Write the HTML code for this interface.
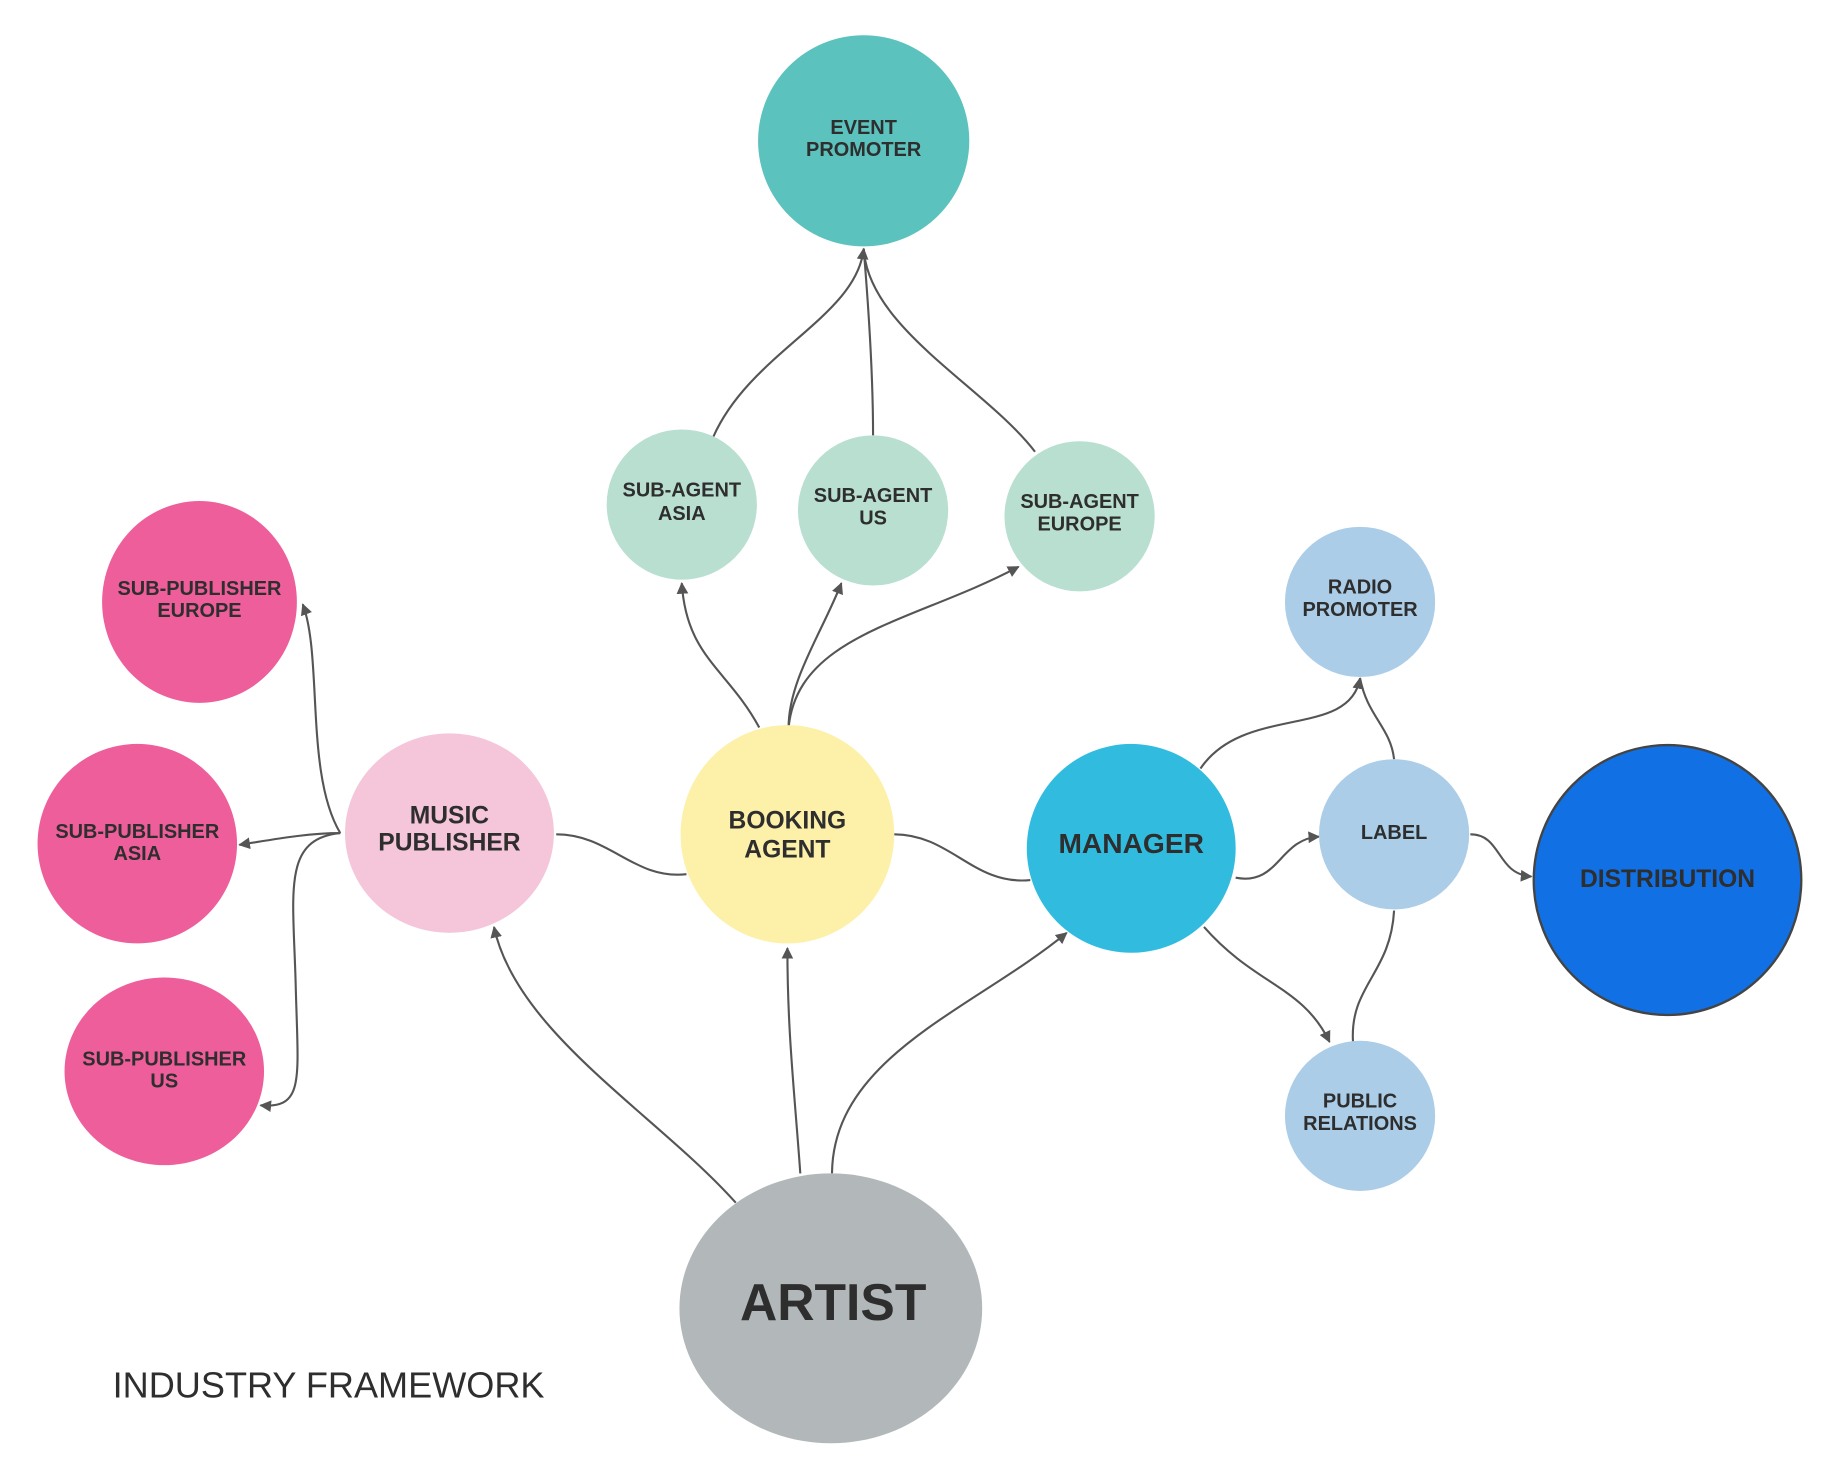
<!DOCTYPE html>
<html><head><meta charset="utf-8"><style>
html,body{margin:0;padding:0;background:#fff;}
svg{display:block;}
text{font-family:"Liberation Sans",sans-serif;font-weight:bold;fill:#2e2e2e;text-anchor:middle;}
.e{fill:none;stroke:#555;stroke-width:1.8;}
</style></head><body>
<svg width="1840" height="1482" viewBox="0 0 1568 1263" preserveAspectRatio="none">
<defs><marker id="a" markerWidth="10" markerHeight="10" refX="9" refY="5" orient="auto" markerUnits="userSpaceOnUse"><path d="M0,0 L10,5 L0,10 z" fill="#555"/></marker></defs>
<!-- edges -->
<path class="e" d="M608,372 C640,300 730,270 736,212" marker-end="url(#a)"/>
<path class="e" d="M744,371 C744,320 740,260 736,212"/>
<path class="e" d="M882,385 C840,330 740,280 736,212"/>
<path class="e" d="M647,620 C620,570 585,560 581,497" marker-end="url(#a)"/>
<path class="e" d="M672,620 C672,580 700,540 717,497" marker-end="url(#a)"/>
<path class="e" d="M672,620 C680,540 780,530 868,483" marker-end="url(#a)"/>
<path class="e" d="M474,711 C520,711 540,750 585,745"/>
<path class="e" d="M762,711 C810,711 830,755 878,750"/>
<path class="e" d="M627,1025 C560,950 440,880 421,790" marker-end="url(#a)"/>
<path class="e" d="M682,1000 C677,930 671,880 671,808" marker-end="url(#a)"/>
<path class="e" d="M709,1000 C710,900 830,860 909,795" marker-end="url(#a)"/>
<path class="e" d="M290,710 C260,660 275,560 258,515" marker-end="url(#a)"/>
<path class="e" d="M290,710 C260,710 230,716 204,720" marker-end="url(#a)"/>
<path class="e" d="M290,710 C240,715 250,760 252,840 C254,920 260,945 222,942" marker-end="url(#a)"/>
<path class="e" d="M1023,655 C1060,600 1150,630 1159,578" marker-end="url(#a)"/>
<path class="e" d="M1188,647 C1185,620 1165,610 1159,578"/>
<path class="e" d="M1053,748 C1090,755 1090,715 1124,713" marker-end="url(#a)"/>
<path class="e" d="M1253,711 C1280,711 1275,745 1305,747" marker-end="url(#a)"/>
<path class="e" d="M1026,790 C1070,840 1110,840 1133,888" marker-end="url(#a)"/>
<path class="e" d="M1188,776 C1185,830 1150,840 1153,888"/>
<!-- nodes -->
<ellipse cx="736" cy="120" rx="90" ry="90" fill="#5bc2bd"/>
<ellipse cx="581" cy="430" rx="64" ry="64" fill="#b8dfd0"/>
<ellipse cx="744" cy="435" rx="64" ry="64" fill="#b8dfd0"/>
<ellipse cx="920" cy="440" rx="64" ry="64" fill="#b8dfd0"/>
<ellipse cx="170" cy="513" rx="83" ry="86" fill="#ee5e9b"/>
<ellipse cx="117" cy="719" rx="85" ry="85" fill="#ee5e9b"/>
<ellipse cx="140" cy="913" rx="85" ry="80" fill="#ee5e9b"/>
<ellipse cx="383" cy="710" rx="89" ry="85" fill="#f5c6da"/>
<ellipse cx="671" cy="711" rx="91" ry="93" fill="#fdf0a8"/>
<ellipse cx="964" cy="723" rx="89" ry="89" fill="#31bcdf"/>
<ellipse cx="1159" cy="513" rx="64" ry="64" fill="#abcde8"/>
<ellipse cx="1188" cy="711" rx="64" ry="64" fill="#abcde8"/>
<ellipse cx="1159" cy="951" rx="64" ry="64" fill="#abcde8"/>
<ellipse cx="1421" cy="750" rx="114" ry="115" fill="#1170e3" stroke="#444" stroke-width="2"/>
<ellipse cx="708" cy="1115" rx="129" ry="115" fill="#b2b8b9"/>
<!-- labels -->
<g font-size="17" style="font-weight:normal">
<text x="736" y="114">EVENT</text><text x="736" y="133">PROMOTER</text>
<text x="581" y="423">SUB-AGENT</text><text x="581" y="443">ASIA</text>
<text x="744" y="428">SUB-AGENT</text><text x="744" y="447">US</text>
<text x="920" y="433">SUB-AGENT</text><text x="920" y="452">EUROPE</text>
<text x="170" y="507">SUB-PUBLISHER</text><text x="170" y="526">EUROPE</text>
<text x="117" y="714">SUB-PUBLISHER</text><text x="117" y="733">ASIA</text>
<text x="140" y="908">SUB-PUBLISHER</text><text x="140" y="927">US</text>
<text x="1159" y="506">RADIO</text><text x="1159" y="525">PROMOTER</text>
<text x="1188" y="715">LABEL</text>
<text x="1159" y="944">PUBLIC</text><text x="1159" y="963">RELATIONS</text>
</g>
<g font-size="21">
<text x="383" y="702">MUSIC</text><text x="383" y="725">PUBLISHER</text>
<text x="671" y="706">BOOKING</text><text x="671" y="731">AGENT</text>
<text x="964" y="727" font-size="24">MANAGER</text>
<text x="1421" y="756">DISTRIBUTION</text>
</g>
<text x="710" y="1125" font-size="44">ARTIST</text>
<text x="280" y="1191" font-size="31" style="font-weight:normal" textLength="368" lengthAdjust="spacingAndGlyphs">INDUSTRY FRAMEWORK</text>
</svg>
</body></html>
